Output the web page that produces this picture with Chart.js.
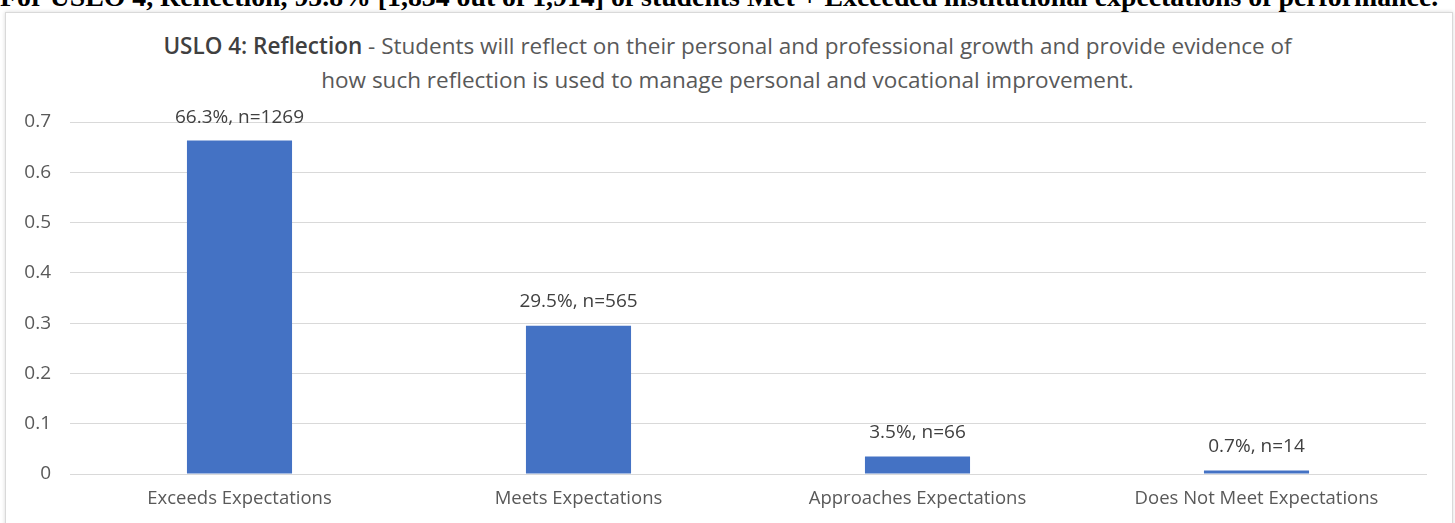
<!DOCTYPE html>
<html>
<head>
<meta charset="utf-8">
<script src="https://cdn.jsdelivr.net/npm/chart.js@4.4.1/dist/chart.umd.min.js"></script>
<style>
    html, body { margin: 0; padding: 0; background: #fff; overflow: hidden; }
    body { width: 1455px; height: 523px; position: relative; }
    #heading {
        position: absolute; left: 0; top: -19px; width: 1455px; white-space: nowrap;
        font-family: "Liberation Serif", "Times New Roman", serif; font-weight: bold; font-size: 27.8px;
        color: #000;
    }
    #frame {
        position: absolute; left: 5px; top: 12px; width: 1446px; height: 530px;
        border: 1px solid #d9d9d9; box-shadow: 0 0 4px rgba(0,0,0,0.15); background: #fff;
    }
    #chartTitle {
        position: absolute; left: 0; top: 29px; width: 1455px; text-align: center;
        font-family: "Open Sans", Lato, sans-serif; font-size: 22.5px; line-height: 34px; color: #595959;
    }
    #chartTitle b { color: #404040; font-weight: 600; }
    #wrap { position: absolute; left: 0; top: 0; width: 1455px; height: 523px; }
</style>
</head>
<body>
<div id="heading">For USLO 4, Reflection, 95.8% [1,834 out of 1,914] of students Met + Exceeded institutional expectations of performance.</div>
<div id="frame"></div>
<div id="chartTitle"><b>USLO 4: Reflection</b> - Students will reflect on their personal and professional growth and provide evidence of<br>how such reflection is used to manage personal and vocational improvement.</div>
<div id="wrap"><canvas id="chart" width="1455" height="523"></canvas></div>
<script>
// Categories and values
var categories = ["Exceeds Expectations", "Meets Expectations", "Approaches Expectations", "Does Not Meet Expectations"];
var shares = [0.663, 0.295, 0.035, 0.007];
var counts = [1269, 565, 66, 14];
var barLabels = ["66.3%, n=1269", "29.5%, n=565", "3.5%, n=66", "0.7%, n=14"];

var fontFamily = '"Open Sans", Lato, sans-serif';

// Draw the value labels above each bar
var valueLabels = {
    id: 'valueLabels',
    afterDatasetsDraw: function (chart) {
        var ctx = chart.ctx;
        var meta = chart.getDatasetMeta(0);
        ctx.save();
        ctx.font = '19px ' + fontFamily;
        ctx.fillStyle = '#404040';
        ctx.textAlign = 'center';
        ctx.textBaseline = 'middle';
        meta.data.forEach(function (bar, i) {
            // keep the top label inside the plot, like the original
            var y = Math.max(bar.y - 24, chart.chartArea.top - 4);
            ctx.fillText(barLabels[i], bar.x, y);
        });
        ctx.restore();
    }
};

var ctx = document.getElementById('chart').getContext('2d');
var chart = new Chart(ctx, {
    type: 'bar',
    data: {
        labels: categories,
        datasets: [{
            data: shares,
            backgroundColor: '#4472C4',
            barPercentage: 0.31,
            categoryPercentage: 1
        }]
    },
    options: {
        responsive: false,
        animation: false,
        layout: { padding: { left: 0, right: 29, top: 122, bottom: 0 } },
        plugins: {
            legend: { display: false },
            tooltip: { enabled: false }
        },
        scales: {
            y: {
                min: 0,
                max: 0.7,
                ticks: { stepSize: 0.1, color: '#595959', font: { family: fontFamily, size: 19 }, padding: 19 },
                grid: { color: '#d9d9d9', drawTicks: false },
                border: { display: false },
                afterFit: function (scale) { scale.width = 70; }
            },
            x: {
                ticks: { color: '#595959', font: { family: fontFamily, size: 18.5 }, padding: 14 },
                grid: { display: false, drawTicks: false },
                border: { color: '#d9d9d9' },
                afterFit: function (scale) { scale.height = 49; }
            }
        }
    },
    plugins: [valueLabels]
});
</script>
</body>
</html>
